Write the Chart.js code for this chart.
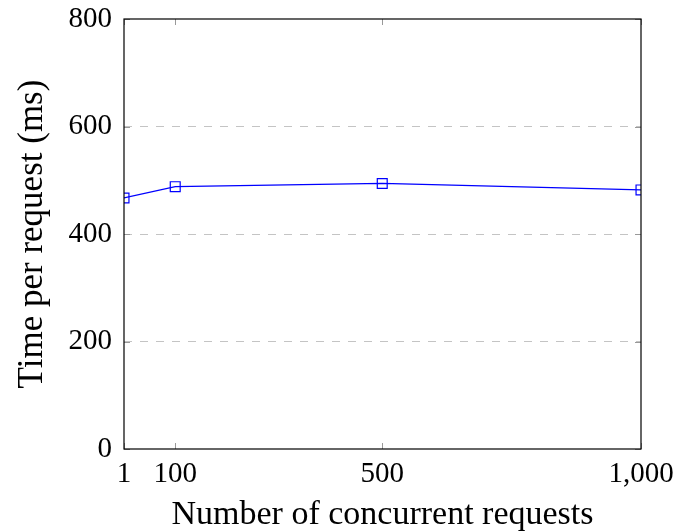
<!DOCTYPE html>
<html>
<head>
<meta charset="utf-8">
<script src="https://cdn.jsdelivr.net/npm/chart.js@4.4.0/dist/chart.umd.min.js"></script>
<style>
  html, body { margin: 0; padding: 0; background: #fff; }
  #wrap { width: 681px; height: 531px; }
</style>
</head>
<body>
<div id="wrap"><canvas id="chart"></canvas></div>
<script>
const concurrency = [1, 100, 500, 1000];
const timePerRequest = [467, 488, 494, 482];
const xTicks = [1, 100, 500, 1000];
const yTicks = [0, 200, 400, 600, 800];

const fontFamily = "'Liberation Serif', 'Times New Roman', serif";

// pgfplots-like frame and inward tick marks
const frameTicks = {
  id: "frameTicks",
  afterDraw(chart) {
    const { ctx, chartArea: a, scales } = chart;
    ctx.save();
    ctx.strokeStyle = "#999";
    ctx.lineWidth = 1;
    const len = 6;
    xTicks.forEach((v) => {
      const px = Math.round(scales.x.getPixelForValue(v)) + 0.5;
      ctx.beginPath();
      ctx.moveTo(px, a.bottom); ctx.lineTo(px, a.bottom - len);
      ctx.moveTo(px, a.top); ctx.lineTo(px, a.top + len);
      ctx.stroke();
    });
    yTicks.forEach((v) => {
      const py = Math.round(scales.y.getPixelForValue(v)) + 0.5;
      ctx.beginPath();
      ctx.moveTo(a.left, py); ctx.lineTo(a.left + len, py);
      ctx.moveTo(a.right, py); ctx.lineTo(a.right - len, py);
      ctx.stroke();
    });
    ctx.strokeStyle = "#000";
    ctx.lineWidth = 1.2;
    ctx.strokeRect(a.left, a.top, a.right - a.left, a.bottom - a.top);
    ctx.restore();
  },
};

new Chart(document.getElementById("chart"), {
  type: "line",
  data: {
    datasets: [
      {
        data: concurrency.map((x, i) => ({ x, y: timePerRequest[i] })),
        borderColor: "#0000ff",
        borderWidth: 1.2,
        pointStyle: "rect",
        pointRadius: 7,
        pointBorderWidth: 1.2,
        pointBorderColor: "#0000ff",
        pointBackgroundColor: "rgba(0,0,0,0)",
        tension: 0,
        fill: false,
      },
    ],
  },
  plugins: [frameTicks],
  options: {
    responsive: true,
    maintainAspectRatio: false,
    animation: false,
    layout: { padding: { left: 12, right: 40, top: 19, bottom: 0 } },
    plugins: { legend: { display: false }, tooltip: { enabled: false } },
    scales: {
      x: {
        type: "linear",
        min: 1,
        max: 1000,
        afterBuildTicks: (s) => { s.ticks = xTicks.map((v) => ({ value: v })); },
        afterFit: (s) => {
          s.height = 531 - 449;
          s.paddingLeft = 0;
          s.paddingRight = 0;
        },
        grid: { display: false },
        border: { display: false },
        ticks: {
          color: "#000",
          font: { family: fontFamily, size: 29 },
          padding: 0,
          maxRotation: 0,
          callback: (v) => v.toLocaleString("en-US"),
        },
        title: {
          display: true,
          text: "Number of concurrent requests",
          color: "#000",
          font: { family: fontFamily, size: 34 },
          padding: { top: 0, bottom: -4 },
        },
      },
      y: {
        min: 0,
        max: 800,
        afterBuildTicks: (s) => { s.ticks = yTicks.map((v) => ({ value: v })); },
        afterFit: (s) => {
          s.width = 112;
          s.paddingTop = 0;
          s.paddingBottom = 0;
        },
        grid: {
          drawTicks: false,
          color: (c) => (c.tick && c.tick.value > 0 && c.tick.value < 800 ? "#c4c4c4" : "rgba(0,0,0,0)"),
          lineWidth: 1,
        },
        border: { display: false, dash: [8, 8] },
        ticks: {
          color: "#000",
          font: { family: fontFamily, size: 29 },
          padding: 12,
        },
        title: {
          display: true,
          text: "Time per request (ms)",
          color: "#000",
          font: { family: fontFamily, size: 35 },
          padding: { top: 0, bottom: 0 },
        },
      },
    },
  },
});
</script>
</body>
</html>
